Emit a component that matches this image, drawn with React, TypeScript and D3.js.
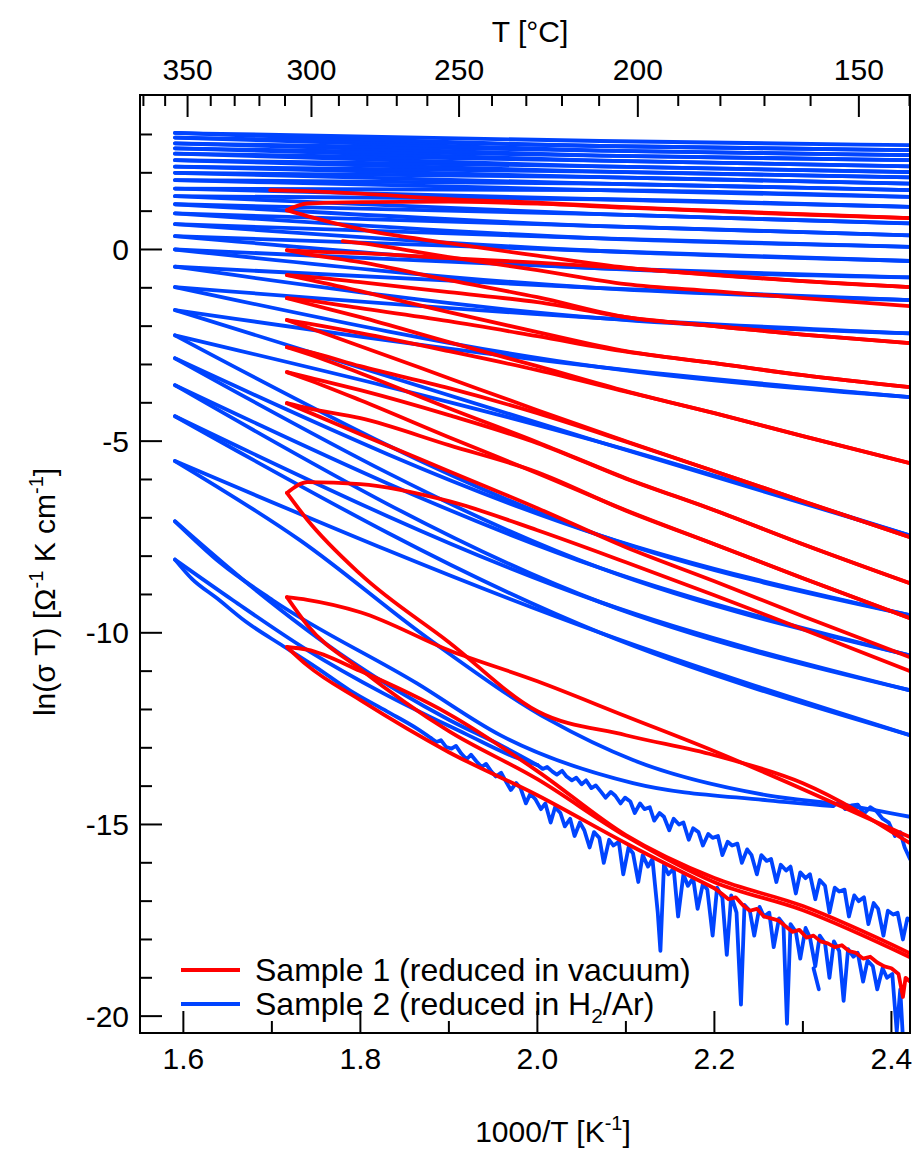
import React from "react";
import * as d3 from "d3";

type Pt = [number, number];

// ---------- data ----------

// Sample 2 (blue): loop tips at the hot end
const blueTipX = 1.5905;
const blueTips = [
  -8.09, -7.09, -5.52, -4.35, -3.54, -2.84, -2.24, -1.58, -0.98, -0.45, 0.0, 0.35, 0.66,
  0.94, 1.18, 1.39, 1.59, 1.81, 2.0, 2.16, 2.33, 2.5, 2.64, 2.77, 2.92, 3.04,
];
// cold-side lines R3..R26: value at 1000/T = 2.071 and at the right edge
const blueMidX = 2.071;
const blueEndX = 2.421;
const blueRightMid = [
  -10.0, -9.2, -8.31, -7.46, -5.03, -3.07, -1.79, -1.01, -0.49, -0.04, 0.29, 0.61, 0.92,
  1.31, 1.55, 1.72, 1.89, 2.03, 2.17, 2.32, 2.45, 2.58, 2.7, 2.83,
];
const blueRightEnd = [
  -12.67, -11.5, -10.59, -9.54, -7.46, -3.85, -2.19, -1.32, -0.73, -0.3, 0.07, 0.37, 0.68,
  1.11, 1.37, 1.55, 1.72, 1.88, 2.02, 2.17, 2.33, 2.46, 2.59, 2.72,
];

// the three lowest blue loops, traced individually
const blueB1Heat: Pt[] = [
  [1.61, -8.6], [1.638, -9.1], [1.67, -9.7], [1.713, -10.35], [1.75, -10.9], [1.788, -11.5],
  [1.83, -12.05], [1.864, -12.5], [1.88, -12.75],
];
const blueB1HeatNoise: Pt[] = [
  [1.88, -12.75], [1.886, -12.85], [1.891, -12.8], [1.897, -12.98], [1.903, -13.02], [1.908, -12.95],
  [1.914, -13.15], [1.92, -13.3], [1.925, -13.18], [1.931, -13.35], [1.937, -13.5], [1.942, -13.42],
  [1.948, -13.62], [1.953, -13.75], [1.959, -13.65], [1.965, -13.9], [1.97, -14.1], [1.976, -13.92],
  [1.981, -14.05], [1.987, -14.45], [1.992, -14.2], [1.998, -14.35], [2.004, -14.6], [2.009, -14.45],
  [2.015, -14.95], [2.02, -14.55], [2.026, -14.7], [2.031, -15.05], [2.037, -14.85], [2.042, -15.3],
  [2.048, -14.95], [2.053, -15.15], [2.059, -15.6], [2.064, -15.2], [2.07, -15.35], [2.075, -16.0],
  [2.081, -15.4], [2.086, -15.55], [2.092, -15.45], [2.097, -16.3], [2.103, -15.6], [2.108, -15.75],
  [2.114, -16.5], [2.119, -15.8], [2.125, -16.1], [2.13, -15.9], [2.136, -17.3], [2.139, -18.3],
  [2.143, -16.05], [2.148, -16.3], [2.154, -16.15], [2.159, -17.4], [2.165, -16.3], [2.17, -16.6],
  [2.176, -16.4], [2.181, -17.2], [2.187, -16.55], [2.192, -16.7], [2.198, -17.9], [2.203, -16.65],
  [2.209, -16.9], [2.214, -18.4], [2.219, -16.85], [2.225, -17.3], [2.23, -19.7], [2.234, -17.1],
  [2.24, -17.25], [2.245, -17.9], [2.251, -17.15], [2.256, -17.4], [2.262, -17.3], [2.267, -18.2],
  [2.273, -17.45], [2.278, -17.6], [2.282, -20.2], [2.286, -17.6], [2.292, -17.8], [2.297, -18.5],
  [2.303, -17.7], [2.308, -17.95], [2.314, -18.7], [2.319, -17.9], [2.325, -18.1], [2.33, -19.0],
  [2.335, -18.05], [2.341, -18.3], [2.346, -19.6], [2.351, -18.25], [2.357, -18.45], [2.362, -18.35],
  [2.368, -19.1], [2.373, -18.55], [2.379, -18.7], [2.384, -19.3], [2.39, -18.75], [2.395, -19.0],
  [2.401, -18.9], [2.406, -20.4], [2.41, -19.3], [2.414, -21.0], [2.418, -20.6], [2.421, -21.3],
];
const blueB1Cool: Pt[] = [
  [1.656, -9.15], [1.74, -10.45], [1.826, -11.58], [1.92, -12.65], [1.97, -13.2], [2.0, -13.45],
];
const blueB1CoolNoise: Pt[] = [
  [2.0, -13.45], [2.006, -13.55], [2.011, -13.5], [2.017, -13.62], [2.022, -13.7], [2.028, -13.6],
  [2.033, -13.75], [2.039, -13.85], [2.044, -13.78], [2.05, -13.95], [2.055, -13.85], [2.061, -14.05],
  [2.066, -13.98], [2.072, -14.15], [2.077, -14.3], [2.083, -14.15], [2.088, -14.25], [2.094, -14.45],
  [2.099, -14.3], [2.105, -14.4], [2.11, -14.7], [2.116, -14.45], [2.121, -14.6], [2.127, -14.55],
  [2.132, -14.9], [2.138, -14.7], [2.143, -14.8], [2.149, -15.15], [2.154, -14.85], [2.16, -15.0],
  [2.165, -14.95], [2.171, -15.4], [2.176, -15.1], [2.182, -15.2], [2.187, -15.55], [2.193, -15.25],
  [2.198, -15.35], [2.204, -15.3], [2.209, -15.8], [2.215, -15.45], [2.22, -15.55], [2.226, -15.5],
  [2.231, -16.0], [2.237, -15.65], [2.242, -15.8], [2.248, -16.3], [2.253, -15.8], [2.259, -15.95],
  [2.264, -15.9], [2.27, -16.5], [2.275, -16.05], [2.281, -16.2], [2.286, -16.1], [2.292, -16.8],
  [2.297, -16.25], [2.303, -16.4], [2.308, -16.3], [2.314, -16.95], [2.319, -16.45], [2.325, -16.6],
  [2.33, -17.3], [2.336, -16.65], [2.341, -16.75], [2.347, -16.7], [2.352, -17.4], [2.358, -16.85],
  [2.363, -17.0], [2.369, -16.9], [2.374, -17.6], [2.38, -17.05], [2.385, -17.2], [2.391, -17.9],
  [2.396, -17.25], [2.402, -17.35], [2.407, -17.3], [2.413, -18.0], [2.418, -17.45], [2.421, -17.5],
];
// second loop: heating joins the middle band, cooling runs to the -14.8 line
const blueB2Heat: Pt[] = [
  [1.675, -8.76], [1.788, -10.72], [1.901, -12.28], [1.96, -12.95], [2.0, -13.45],
];
const blueB2Cool: Pt[] = [
  [1.641, -8.16], [1.701, -9.15], [1.864, -11.32], [1.958, -12.67], [2.108, -13.92],
  [2.26, -14.37], [2.334, -14.52],
];
const blueB2CoolNoise: Pt[] = [
  [2.334, -14.52], [2.341, -14.42], [2.348, -14.6], [2.355, -14.5], [2.362, -14.48], [2.369, -14.72],
  [2.376, -14.55], [2.383, -14.65], [2.39, -14.85], [2.397, -14.95], [2.404, -15.3], [2.41, -15.2],
  [2.415, -15.6], [2.421, -15.9],
];
const blueB3Heat: Pt[] = [
  [1.732, -7.59], [1.879, -10.19], [2.014, -12.28], [2.108, -13.32], [2.26, -14.24],
  [2.35, -14.5], [2.421, -14.8],
];
const blueDash: Pt[] = [[2.312, -18.75], [2.318, -19.3]];

// Sample 1 (red)
const redTipX = 1.717;
const redTips = [1.025, -0.02, -0.67, -1.27, -1.84, -2.55, -3.2, -4.01, -6.35, -9.07, -10.37];
const redGrid = [1.74, 1.8, 1.9, 2.0, 2.1, 2.2, 2.3, 2.421];
const redCooling = [
  [1.2, 1.234, 1.247, 1.195, 1.09, 0.999, 0.908, 0.817],
  [-0.05, -0.097, -0.227, -0.344, -0.488, -0.67, -0.827, -0.984],
  [-0.71, -0.853, -1.114, -1.375, -1.766, -2.0, -2.223, -2.445],
  [-1.33, -1.531, -1.871, -2.262, -2.666, -2.966, -3.279, -3.592],
  [-1.93, -2.184, -2.653, -3.149, -3.71, -4.271, -4.871, -5.575],
  [-2.66, -3.045, -3.619, -4.271, -5.014, -5.784, -6.567, -7.506],
  [-3.33, -3.671, -4.323, -5.053, -5.979, -6.802, -7.689, -8.707],
  [-4.14, -4.401, -5.105, -5.81, -6.815, -7.689, -8.576, -9.62],
  [-6.07, -6.123, -6.567, -7.323, -8.158, -9.019, -9.906, -11.0],
  [-9.14, -9.463, -10.454, -11.263, -12.176, -13.089, -14.08, -15.332],
  [-10.44, -10.998, -12.12, -13.607, -15.277, -16.398, -17.129, -18.359],
];
const redHeating = [
  [0.87, 0.53, 0.164, -0.162, -0.475, -0.657, -0.827, -0.984],
  [-0.12, -0.331, -0.8, -1.244, -1.766, -2.0, -2.223, -2.445],
  [-0.78, -1.088, -1.636, -2.158, -2.653, -2.966, -3.279, -3.592],
  [-1.41, -1.766, -2.418, -3.045, -3.697, -4.271, -4.871, -5.575],
  [-2.03, -2.523, -3.358, -4.193, -5.001, -5.784, -6.567, -7.506],
  [-2.72, -3.227, -4.14, -5.027, -5.966, -6.802, -7.689, -8.707],
  [-3.39, -3.932, -4.897, -5.836, -6.802, -7.689, -8.576, -9.62],
  [-4.23, -4.819, -5.784, -6.749, -7.767, -8.654, -9.567, -10.637],
  [-7.05, -8.471, -10.245, -12.045, -12.672, -13.194, -13.924, -15.49],
  [-9.8, -10.95, -12.567, -13.819, -15.306, -16.506, -17.237, -18.463],
  [-10.85, -11.758, -13.115, -14.237, -15.489, -16.663, -17.811, -18.985],
];
// noisy cold end of the first red heating
const redStartTail: Pt[] = [
  [2.2, -16.663], [2.208, -16.8], [2.216, -16.95], [2.224, -16.9], [2.232, -17.1], [2.24, -17.25],
  [2.248, -17.2], [2.256, -17.4], [2.264, -17.45], [2.272, -17.5], [2.28, -17.65], [2.288, -17.8],
  [2.296, -17.75], [2.304, -17.95], [2.312, -17.9], [2.32, -18.05], [2.328, -18.1], [2.336, -18.2],
  [2.344, -18.15], [2.352, -18.3], [2.36, -18.35], [2.368, -18.5], [2.376, -18.45], [2.384, -18.6],
  [2.392, -18.7], [2.4, -18.75], [2.408, -18.9], [2.413, -19.5], [2.416, -19.0], [2.421, -19.1],
];
const redPiece1: Pt[] = [
  [1.698, 1.547], [1.74, 1.52], [1.8, 1.456], [1.9, 1.312], [2.0, 1.221], [2.1, 1.104],
  [2.2, 1.012], [2.3, 0.921], [2.421, 0.817],
];
const redPiece2: Pt[] = [
  [1.78, 0.217], [1.8, 0.164], [1.9, -0.201], [2.0, -0.54], [2.1, -0.905], [2.2, -1.088],
  [2.3, -1.271], [2.421, -1.479],
];

const xMajor = [1.6, 1.8, 2.0, 2.2, 2.4];
const xMinor = [1.7, 1.9, 2.1, 2.3];
const yMajor = [0, -5, -10, -15, -20];
const celsiusMajor = [350, 300, 250, 200, 150];

const RED = "#ff0000";
const BLUE = "#0044ff";
const FONT = "'Liberation Sans', Arial, sans-serif";
const LW = 3.8;

export default function App() {
  const W = 916;
  const H = 1162;
  const L = 140, R = 910, T = 95, B = 1033;

  const x = d3.scaleLinear().domain([1.551, 2.421]).range([L, R]);
  const y = d3.scaleLinear().domain([-20.44, 4.03]).range([B, T]);
  const smooth = d3
    .line<Pt>()
    .x((d) => x(d[0]))
    .y((d) => y(d[1]))
    .curve(d3.curveMonotoneX);
  const jagged = d3
    .line<Pt>()
    .x((d) => x(d[0]))
    .y((d) => y(d[1]));

  // shared cold-side lines R3..R26
  const rightLine = (k: number): Pt[] => [
    [blueMidX, blueRightMid[k - 3]],
    [blueEndX, blueRightEnd[k - 3]],
  ];

  const bluePaths: string[] = [];
  blueTips.forEach((t, i) => {
    const k = i + 1;
    const tip: Pt = [blueTipX, t];
    let heat: Pt[];
    let cool: Pt[];
    if (k === 1) {
      heat = blueB1Heat;
      cool = blueB1Cool;
      bluePaths.push(jagged(blueB1HeatNoise) as string);
      bluePaths.push(jagged(blueB1CoolNoise) as string);
    } else if (k === 2) {
      heat = blueB2Heat;
      cool = blueB2Cool;
      bluePaths.push(jagged(blueB2CoolNoise) as string);
    } else if (k === 3) {
      heat = blueB3Heat;
      cool = rightLine(3);
    } else {
      heat = rightLine(k - 1);
      cool = rightLine(k);
    }
    bluePaths.push(smooth([tip, ...heat]) as string);
    bluePaths.push(smooth([tip, ...cool]) as string);
  });
  bluePaths.push(jagged(blueDash) as string);

  const redPaths: string[] = [];
  redTips.forEach((t, i) => {
    const tip: Pt = [redTipX, t];
    const cool = redGrid.map((g, j) => [g, redCooling[i][j]] as Pt);
    let heat = redGrid.map((g, j) => [g, redHeating[i][j]] as Pt);
    if (i === redTips.length - 1) {
      heat = heat.filter((p) => p[0] <= 2.2);
      redPaths.push(jagged(redStartTail) as string);
    }
    redPaths.push(smooth([tip, ...heat]) as string);
    redPaths.push(smooth([tip, ...cool]) as string);
  });
  redPaths.push(smooth(redPiece1) as string);
  redPaths.push(smooth(redPiece2) as string);

  const yMinor = d3.range(-20, 4).filter((v) => v % 5 !== 0);
  const cMinor = d3.range(140, 380, 10).filter((c) => c % 50 !== 0);
  const cToX = (c: number) => x(1000 / (c + 273.15));

  const major = 22;
  const minor = 12;

  return (
    <svg
      width={W}
      height={H}
      style={{ position: "absolute", left: 0, top: 0, background: "#fff" }}
      fontFamily={FONT}
    >
      <defs>
        <clipPath id="plotClip">
          <rect x={L} y={T} width={R - L} height={B - T} />
        </clipPath>
      </defs>

      <g clipPath="url(#plotClip)" fill="none" strokeLinecap="round" strokeLinejoin="round">
        {bluePaths.map((d, i) => (
          <path key={"b" + i} d={d} stroke={BLUE} strokeWidth={LW} />
        ))}
        {redPaths.map((d, i) => (
          <path key={"r" + i} d={d} stroke={RED} strokeWidth={LW} />
        ))}
      </g>

      {/* frame */}
      <rect x={L} y={T} width={R - L} height={B - T} fill="none" stroke="#000" strokeWidth={2} />

      {/* ticks */}
      <g stroke="#000" strokeWidth={2}>
        {yMajor.map((v) => (
          <line key={"ym" + v} x1={L} x2={L + major} y1={y(v)} y2={y(v)} />
        ))}
        {yMinor.map((v) => (
          <line key={"yn" + v} x1={L} x2={L + minor} y1={y(v)} y2={y(v)} />
        ))}
        {xMajor.map((v) => (
          <line key={"xm" + v} x1={x(v)} x2={x(v)} y1={B} y2={B - major} />
        ))}
        {xMinor.map((v) => (
          <line key={"xn" + v} x1={x(v)} x2={x(v)} y1={B} y2={B - minor} />
        ))}
        {celsiusMajor.map((c) => (
          <line key={"cm" + c} x1={cToX(c)} x2={cToX(c)} y1={T} y2={T + major} />
        ))}
        {cMinor.map((c) => (
          <line key={"cn" + c} x1={cToX(c)} x2={cToX(c)} y1={T} y2={T + 11} />
        ))}
      </g>

      <g fontSize={30} fill="#000">
        {yMajor.map((v) => (
          <text key={"yl" + v} x={129} y={y(v)} dy="0.35em" textAnchor="end">
            {v}
          </text>
        ))}
        {xMajor.map((v) => (
          <text key={"xl" + v} x={x(v)} y={1069} textAnchor="middle">
            {v.toFixed(1)}
          </text>
        ))}
        {celsiusMajor.map((c) => (
          <text key={"cl" + c} x={cToX(c)} y={80} textAnchor="middle">
            {c}
          </text>
        ))}
        <text x={530} y={42} textAnchor="middle">
          T [°C]
        </text>
        <text x={553} y={1142} textAnchor="middle">
          1000/T [K
          <tspan dy={-12} fontSize={20}>
            -1
          </tspan>
          <tspan dy={12}>]</tspan>
        </text>
        <text transform="translate(55,592) rotate(-90)" textAnchor="middle">
          ln(σ T) [Ω
          <tspan dy={-12} fontSize={20}>
            -1
          </tspan>
          <tspan dy={12}> K cm</tspan>
          <tspan dy={-12} fontSize={20}>
            -1
          </tspan>
          <tspan dy={12}>]</tspan>
        </text>
      </g>

      {/* legend */}
      <g fontSize={32} fill="#000">
        <line x1={181} x2={240} y1={970} y2={970} stroke={RED} strokeWidth={LW} />
        <text x={255} y={970} dy="0.35em">
          Sample 1 (reduced in vacuum)
        </text>
        <line x1={181} x2={240} y1={1004} y2={1004} stroke={BLUE} strokeWidth={LW} />
        <text x={255} y={1004} dy="0.35em">
          Sample 2 (reduced in H
          <tspan dy={8} fontSize={21}>
            2
          </tspan>
          <tspan dy={-8}>/Ar)</tspan>
        </text>
      </g>
    </svg>
  );
}
